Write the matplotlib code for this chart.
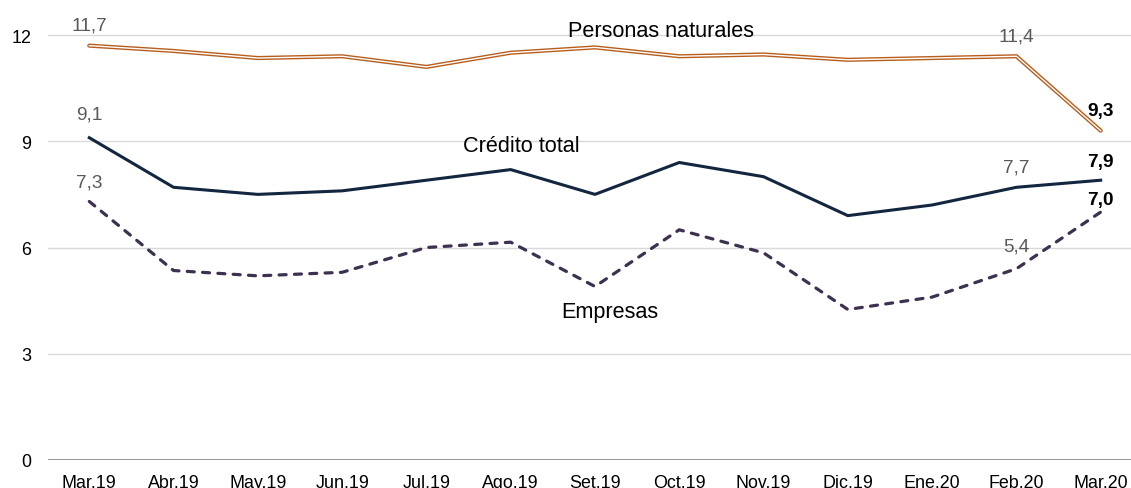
import matplotlib
matplotlib.use("Agg")
import matplotlib.pyplot as plt

months = ["Mar.19", "Abr.19", "May.19", "Jun.19", "Jul.19", "Ago.19", "Set.19",
          "Oct.19", "Nov.19", "Dic.19", "Ene.20", "Feb.20", "Mar.20"]
personas = [11.7, 11.55, 11.35, 11.4, 11.1, 11.5, 11.65, 11.4, 11.45, 11.3, 11.35, 11.4, 9.3]
credito = [9.1, 7.7, 7.5, 7.6, 7.9, 8.2, 7.5, 8.4, 8.0, 6.9, 7.2, 7.7, 7.9]
empresas = [7.3, 5.35, 5.2, 5.3, 6.0, 6.15, 4.9, 6.5, 5.85, 4.25, 4.6, 5.4, 7.0]
yticks = [0, 3, 6, 9, 12]

plt.rcParams['font.family'] = ['Liberation Sans', 'DejaVu Sans']

W, H = 1131, 489
fig = plt.figure(figsize=(W / 100, H / 100), dpi=100)
ax = fig.add_axes([48 / W, 1 - 461 / H, (W - 48) / W, 460.4 / H])

x = list(range(len(months)))
ax.set_xlim(-0.49, 12.36)
ax.set_ylim(0, 13)

ax.set_yticks(yticks)
ax.set_yticklabels([str(v) for v in yticks])
ax.set_xticks(x)
ax.set_xticklabels(months)
ax.tick_params(axis='both', length=0, labelsize=12.9, colors='black')
ax.tick_params(axis='y', pad=12)
ax.tick_params(axis='x', pad=10)

for v in yticks[1:]:
    ax.axhline(v, color='#D9D9D9', lw=1.0, zorder=0)
ax.axhline(0, color='#868686', lw=1.2, zorder=1)
for s in ax.spines.values():
    s.set_visible(False)

# Personas naturales: double line
ax.plot(x, personas, color='#B85E1C', lw=3.0, zorder=3, solid_joinstyle='miter',
        solid_capstyle='round')
ax.plot(x, personas, color='#FFFFFF', lw=1.0, zorder=4, solid_joinstyle='miter')
# Credito total
ax.plot(x, credito, color='#12263F', lw=2.2, zorder=3)
# Empresas
ax.plot(x, empresas, color='#3D3152', lw=2.3, zorder=3, dashes=(2.2, 2.6),
        dash_capstyle='round')

gray = '#595959'
def lab(i, y, text, dy, bold=False):
    ax.annotate(text, (i, y), xytext=(0, dy), textcoords='offset points',
                ha='center', va='baseline', fontsize=13.7,
                color='black' if bold else gray,
                fontweight='bold' if bold else 'normal', zorder=5)

lab(0, personas[0], "11,7", 11.5)
lab(0, credito[0], "9,1", 13.5)
lab(0, empresas[0], "7,3", 11)
lab(11, personas[11], "11,4", 11.5)
lab(11, credito[11], "7,7", 11.5)
lab(11, empresas[11], "5,4", 13.5)
lab(12, personas[12], "9,3", 11.5, True)
lab(12, credito[12], "7,9", 10, True)
lab(12, empresas[12], "7,0", 5.5, True)

def px2data(px, py):
    xd = -0.49 + (px - 48) / 84.33
    yd = (461 - py) / 35.42
    return xd, yd

for text, px, py in [("Personas naturales", 661, 37.3), ("Crédito total", 521.5, 151.7),
                     ("Empresas", 610, 318)]:
    xd, yd = px2data(px, py)
    ax.text(xd, yd, text, ha='center', va='baseline', fontsize=15.6, color='black', zorder=5)

fig.savefig("out.png", dpi=100)
